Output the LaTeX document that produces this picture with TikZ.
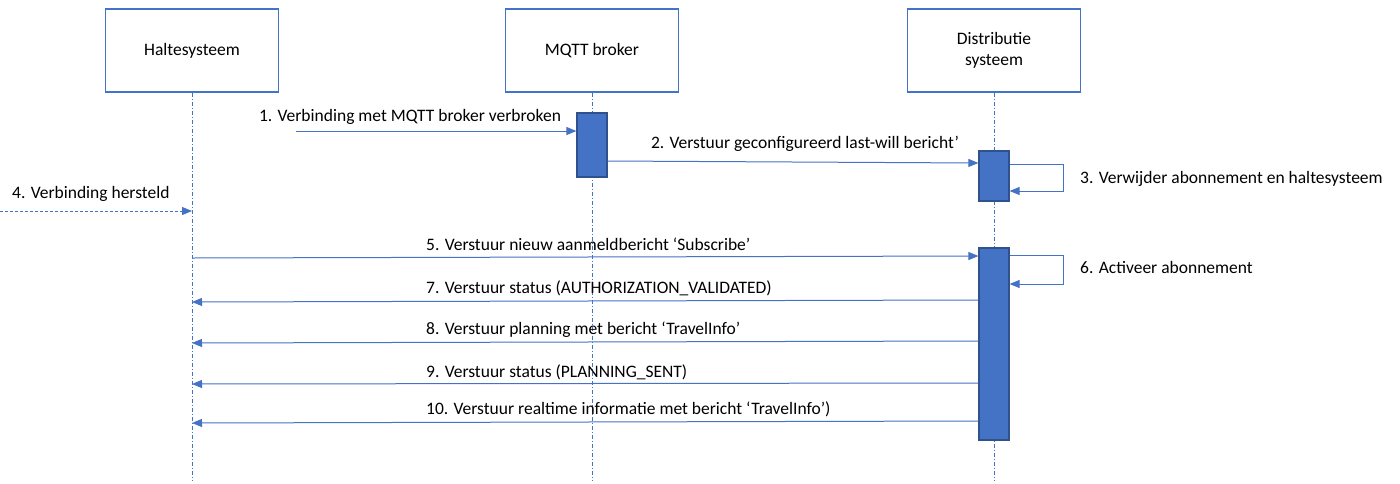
\documentclass[tikz,border=0pt]{standalone}
\usepackage{fontspec}
\setmainfont{Carlito}
\usetikzlibrary{arrows.meta}
\definecolor{accent}{HTML}{4472C4}
\definecolor{accentdark}{HTML}{2F528F}
\begin{document}
\begin{tikzpicture}[x=1pt,y=-1pt,
  font=\fontsize{17.5}{21}\selectfont,
  actor/.style={draw=accent, line width=1.3pt, fill=white, minimum width=173pt, minimum height=83pt, align=center, inner sep=0pt},
  lifeline/.style={draw=accent, line width=0.8pt, dash pattern=on 4pt off 2pt on 1pt off 2pt},
  activation/.style={draw=accentdark, line width=1.2pt, fill=accent, minimum width=30pt, inner sep=0pt},
  msg/.style={draw=accent, line width=1pt, -{Triangle[length=10pt,width=8pt]}},
  lostmsg/.style={msg, dash pattern=on 3pt off 2pt},
  lbl/.style={inner sep=0pt, anchor=base},
  lblw/.style={inner sep=0pt, anchor=base west}
]
\useasboundingbox (0,0) rectangle (1400,483);

% participants
\node[actor] (halte) at (192,50.5) {Haltesysteem};
\node[actor] (broker) at (592,50.5) {MQTT broker};
\node[actor] (distr) at (994,50.5) {Distributie\\systeem};

% lifelines
\coordinate (haltEnd) at (192,481);
\coordinate (brokEnd) at (592,481);
\coordinate (distEnd) at (994,481);
\draw[lifeline] (halte.south) -- (haltEnd);
\draw[lifeline] (broker.south) -- (brokEnd);
\draw[lifeline] (distr.south) -- (distEnd);

% activation bars
\node[activation, minimum height=64pt] (barB) at (592,145) {};
\node[activation, minimum height=50pt] (barD1) at (994,176) {};
\node[activation, minimum height=192pt] (barD2) at (994,344) {};

% 1. lost connection
\coordinate (m1s) at (296,131);
\draw[msg] (m1s) -- (barB.west |- m1s);
\node[lbl] at (410,121) {1. Verbinding met MQTT broker verbroken};

% 2. last will
\coordinate (m2s) at (barB.east |- 0,161);
\coordinate (m2e) at (barD1.west |- 0,163);
\draw[msg] (m2s) -- (m2e);
\node[lbl] at (805,148) {2. Verstuur geconfigureerd last-will bericht’};

% 3. self call
\coordinate (s3a) at (barD1.east |- 0,164);
\coordinate (s3b) at (1063,164);
\coordinate (s3c) at (1063,191);
\coordinate (s3d) at (barD1.east |- 0,191);
\draw[msg] (s3a) -- (s3b) -- (s3c) -- (s3d);
\node[lblw] at (1080,183) {3. Verwijder abonnement en haltesysteem};

% 4. reconnect
\coordinate (m4s) at (0,211);
\draw[lostmsg] (m4s) -- (halte |- m4s);
\node[lblw] at (12,198) {4. Verbinding hersteld};

% 5. subscribe
\coordinate (m5s) at (192,258);
\coordinate (m5e) at (barD2.west |- 0,256);
\draw[msg] (m5s) -- (m5e);
\node[lblw] at (426,250) {5. Verstuur nieuw aanmeldbericht ‘Subscribe’};

% 6. self call
\coordinate (s6a) at (barD2.east |- 0,255);
\coordinate (s6b) at (1063,255);
\coordinate (s6c) at (1063,284);
\coordinate (s6d) at (barD2.east |- 0,284);
\draw[msg] (s6a) -- (s6b) -- (s6c) -- (s6d);
\node[lblw] at (1080,273) {6. Activeer abonnement};

% 7-10 replies
\coordinate (m7s) at (barD2.west |- 0,300);
\coordinate (m7e) at (192,302);
\draw[msg] (m7s) -- (m7e);
\node[lblw] at (426,293) {7. Verstuur status (AUTHORIZATION\_VALIDATED)};

\coordinate (m8s) at (barD2.west |- 0,341);
\coordinate (m8e) at (192,343);
\draw[msg] (m8s) -- (m8e);
\node[lblw] at (426,334) {8. Verstuur planning met bericht ‘TravelInfo’};

\coordinate (m9s) at (barD2.west |- 0,383);
\coordinate (m9e) at (192,384);
\draw[msg] (m9s) -- (m9e);
\node[lblw] at (426,377) {9. Verstuur status (PLANNING\_SENT)};

\coordinate (m10s) at (barD2.west |- 0,421);
\coordinate (m10e) at (192,423);
\draw[msg] (m10s) -- (m10e);
\node[lblw] at (426,414) {10. Verstuur realtime informatie met bericht ‘TravelInfo’)};
\end{tikzpicture}
\end{document}
